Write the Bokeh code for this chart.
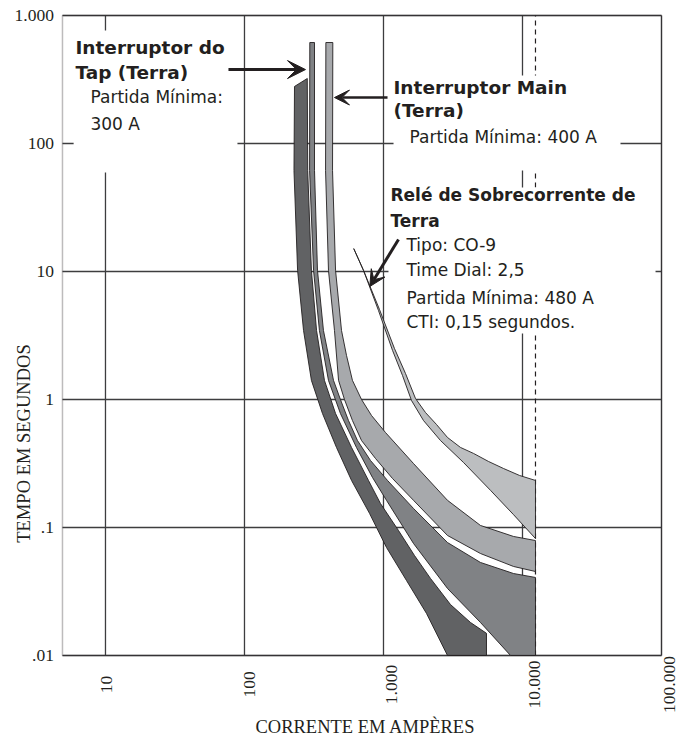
from math import pi
from bokeh.plotting import figure
from bokeh.models import Label, Arrow, VeeHead, BoxAnnotation
from bokeh.embed import file_html
from bokeh.resources import INLINE

# ---------------- axes ----------------
x_ticks = [10, 100, 1000, 10000, 100000]
x_tick_labels = ["10", "100", "1.000", "10.000", "100.000"]
y_ticks = [0.01, 0.1, 1, 10, 100, 1000]
y_tick_labels = [".01", ".1", "1", "10", "100", "1.000"]
plot_x = (4.905, 100000)      # limits of the plotted area (amperes)
plot_y = (0.01, 1000)         # limits of the plotted area (seconds)
fault_current_a = 12400

# ---------------- curves (amperes, seconds) ----------------
# darkest band
dark_min_amps = [229, 227, 241, 266, 303, 364, 459, 589, 793, 1051, 1464, 2039, 2887]
dark_min_secs = [279, 61.5, 10.2, 3.46, 1.41, 0.777, 0.422, 0.233, 0.129, 0.0698, 0.0385, 0.0213, 0.01]
dark_max_amps = [283, 285, 303, 330, 376, 452, 589, 780, 951, 1282, 1671, 2178, 3034, 4227, 5508, 5508]
dark_max_secs = [322, 61.5, 10.2, 3.46, 1.41, 0.777, 0.422, 0.233, 0.154, 0.0947, 0.0604, 0.0400, 0.0250, 0.0181, 0.0149, 0.01]

# Interruptor do Tap (Terra) - 300 A
tap_min_amps = [295, 294, 314, 346, 402, 490, 639, 833, 1051, 1644, 2887, 4986, 8199]
tap_min_secs = [615, 61.5, 10.2, 3.46, 1.41, 0.777, 0.422, 0.246, 0.163, 0.0750, 0.0334, 0.0181, 0.01]
tap_max_amps = [319, 319, 335, 370, 437, 490, 560, 650, 806, 1069, 1644, 2887, 4986, 8616, 12400, 12400]
tap_max_secs = [615, 61.5, 10.2, 3.46, 1.41, 1.0, 0.685, 0.478, 0.334, 0.233, 0.1408, 0.0763, 0.0533, 0.0437, 0.0407, 0.01]

# Interruptor Main (Terra) - 400 A
main_min_amps = [385, 383, 402, 444, 475, 524, 598, 695, 876, 1161, 1644, 2887, 4986, 8616, 12400]
main_min_secs = [615, 61.5, 10.2, 3.46, 1.41, 1.0, 0.685, 0.478, 0.346, 0.2414, 0.163, 0.0866, 0.0626, 0.0496, 0.0453]
main_max_amps = [432, 430, 452, 499, 542, 598, 695, 820, 1034, 1644, 2887, 4986, 8616, 12400]
main_max_secs = [615, 61.5, 10.2, 3.46, 2.21, 1.41, 1.0, 0.750, 0.552, 0.316, 0.163, 0.1037, 0.0851, 0.0791]

# Relé de Sobrecorrente de Terra (CO-9, dial 2,5, 480 A)
relay_min_amps = [611, 718, 920, 1161, 1370, 1590, 1940, 2571, 3763, 5888, 8616, 12400]
relay_min_secs = [15.1, 10.2, 4.96, 2.42, 1.54, 0.982, 0.685, 0.478, 0.322, 0.195, 0.126, 0.0820]
relay_max_amps = [611, 718, 936, 1200, 1440, 1699, 2005, 2406, 2887, 3581, 4442, 5694, 7301, 9515, 12400]
relay_max_secs = [15.1, 10.2, 5.05, 2.50, 1.596, 1.018, 0.791, 0.638, 0.505, 0.422, 0.379, 0.328, 0.289, 0.255, 0.233]

INK = "#231f20"
GRID = "#3d3d3f"
SANS = "DejaVu Sans"
SERIF = "Liberation Serif"

# the frame spans the whole canvas; the plotted area is bounded by plot_x / plot_y
p = figure(width=679, height=738, x_axis_type="log", y_axis_type="log",
           x_range=(1.757, 134740), y_range=(0.002246, 1309.6),
           output_backend="svg", toolbar_location=None,
           min_border_left=0, min_border_right=0, min_border_top=0, min_border_bottom=0)
p.axis.visible = False
p.grid.visible = False
p.outline_line_color = None
p.background_fill_color = "white"
p.border_fill_color = "white"

# grid lines, bounded to the plotted area
p.multi_line(xs=[[t, t] for t in x_ticks], ys=[list(plot_y) for _ in x_ticks],
             line_color=GRID, line_width=1.3)
p.multi_line(xs=[list(plot_x) for _ in y_ticks], ys=[[t, t] for t in y_ticks],
             line_color=GRID, line_width=1.3)
# fault-current limit
p.segment(x0=[fault_current_a], y0=[plot_y[0]], x1=[fault_current_a], y1=[plot_y[1]],
          line_color=INK, line_dash="5 4", line_width=1.2)

# white backgrounds behind the text blocks (interrupt the grid)
mask_left = [5.9, 1181, 1086]
mask_right = [89, 50700, 90600]
mask_bottom = [59.3, 61.5, 3.28]
mask_top = [764, 340, 45.3]
p.quad(left=mask_left, right=mask_right, bottom=mask_bottom, top=mask_top,
       fill_color="white", line_color=None)


def band(lo_i, lo_t, hi_i, hi_t, color):
    xs = list(lo_i) + list(hi_i)[::-1]
    ys = list(lo_t) + list(hi_t)[::-1]
    p.patch(xs, ys, fill_color=color, line_color=INK, line_width=0.9)


band(dark_min_amps, dark_min_secs, dark_max_amps, dark_max_secs, "#616264")
band(tap_min_amps, tap_min_secs, tap_max_amps, tap_max_secs, "#808285")
band(main_min_amps, main_min_secs, main_max_amps, main_max_secs, "#a7a9ac")
band(relay_min_amps, relay_min_secs, relay_max_amps, relay_max_secs, "#bcbec0")

# outline of the plotted area
p.add_layout(BoxAnnotation(left=plot_x[0], right=plot_x[1], bottom=plot_y[0], top=plot_y[1],
                           fill_color=None, fill_alpha=0, line_color=INK, line_width=1.5))


def txt(x, y, s, size, bold=False, font=SANS, angle=0, align="left"):
    p.add_layout(Label(x=x, y=y, text=s, text_font=font, text_font_size=size,
                       text_font_style="bold" if bold else "normal", text_color=INK,
                       text_align=align, text_baseline="middle", angle=angle))


# Interruptor do Tap
txt(6.08, 562, "Interruptor do", "18.5px", True)
txt(6.08, 359, "Tap (Terra)", "18.5px", True)
txt(7.8, 228.8, "Partida Mínima:", "17px")
txt(7.8, 140.8, "300 A", "17px")
# Interruptor Main
txt(1180, 273.8, "Interruptor Main", "18.5px", True)
txt(1180, 181, "(Terra)", "18.5px", True)
txt(1539, 111.4, "Partida Mínima: 400 A", "17px")
# Relay
txt(1123, 39.3, "Relé de Sobrecorrente de", "17px", True)
txt(1123, 25.0, "Terra", "17px", True)
txt(1464, 15.97, "Tipo: CO-9", "17px")
txt(1464, 10.18, "Time Dial: 2,5", "17px")
txt(1464, 6.26, "Partida Mínima: 480 A", "17px")
txt(1464, 4.00, "CTI: 0,15 segundos.", "17px")

# arrows
for xs, ys, xe, ye, w, hs in [(76.7, 378, 274.7, 378, 3, 18),
                              (1069, 228.6, 444, 228.6, 2.5, 15),
                              (1282, 17.8, 797, 7.63, 3, 16)]:
    p.add_layout(Arrow(end=VeeHead(size=hs, fill_color=INK, line_color=INK, line_width=1),
                       x_start=xs, y_start=ys, x_end=xe, y_end=ye,
                       line_width=w, line_color=INK))

# tick labels
for tv, tl in zip(y_ticks, y_tick_labels):
    txt(4.262, tv, tl, "17.5px", font=SERIF, align="right")
x_label_pos = [10.17, 108.6, 1142, 12200, 114200]
for xp, tl in zip(x_label_pos, x_tick_labels):
    txt(xp, 0.005936, tl, "17.5px", font=SERIF, angle=pi / 2, align="center")

# axis titles
txt(742, 0.002738, "CORRENTE EM AMPÈRES", "18.5px", font=SERIF, align="center")
txt(2.593, 0.4530, "TEMPO EM SEGUNDOS", "18.5px", font=SERIF, angle=pi / 2, align="center")

open("out.html", "w").write(file_html(p, INLINE))
